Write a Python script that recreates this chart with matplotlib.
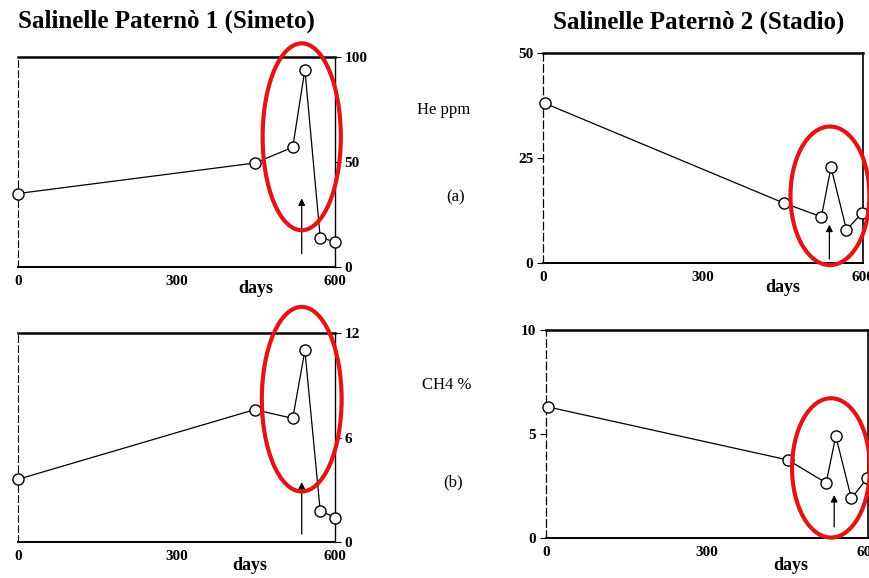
import matplotlib
matplotlib.use("Agg")
import matplotlib.pyplot as plt
from matplotlib.patches import Ellipse

plt.rcParams["font.family"] = "Liberation Serif"

W, H = 870, 578

# sampling days and measured values for the two mud-volcano sites
days_site1 = [0, 448, 520, 543, 572, 600]
he_site1 = [35, 49.5, 57, 94, 14, 12]
ch4_site1 = [3.6, 7.6, 7.1, 11.0, 1.8, 1.4]

days_site2 = [4, 451, 522, 540, 569, 599]
he_site2 = [38, 14.3, 11, 22.8, 7.9, 12]
ch4_site2 = [6.3, 3.75, 2.65, 4.9, 1.9, 2.9]

event_day = 537
x_ticks = [0, 300, 600]
titles = ["Salinelle Paternò 1 (Simeto)", "Salinelle Paternò 2 (Stadio)"]


def px_axes(fig, left, top, right, bottom):
    return fig.add_axes([left / W, 1 - bottom / H, (right - left) / W, (bottom - top) / H])


def style_panel(ax, ymax, yticks, side, days_x, days_drop):
    ax.set_xlim(0, 600)
    ax.set_ylim(0, ymax)
    ax.set_xticks(x_ticks)
    ax.set_xticklabels([str(t) for t in x_ticks], fontsize=11, fontweight="bold")
    ax.tick_params(axis="x", length=0, pad=6)
    ax.set_yticks(yticks)
    ax.set_yticklabels([str(t) for t in yticks], fontsize=11, fontweight="bold")
    if side == "right":
        ax.yaxis.tick_right()
        ax.spines["left"].set_linestyle((0, (6, 3)))
        ax.spines["left"].set_linewidth(0.8)
        ax.spines["right"].set_linewidth(1.0)
    else:
        ax.spines["left"].set_linestyle((0, (6, 3)))
        ax.spines["left"].set_linewidth(0.9)
        ax.spines["right"].set_linewidth(1.2)
    ax.tick_params(axis="y", length=4, width=0.8, pad=3)
    ax.spines["top"].set_linewidth(1.8)
    ax.spines["bottom"].set_linewidth(1.4)
    height_px = ax.get_position().height * H
    ax.text(days_x, -days_drop / height_px, "days", transform=ax.transAxes,
            ha="center", va="center", fontsize=13, fontweight="bold")


def draw_series(ax, days, values, arrow_lo, arrow_hi, ell_c, ell_w, ell_h):
    ax.plot(days, values, "-", color="black", lw=0.9, marker="o", ms=8,
            mfc="white", mec="black", mew=1.0, clip_on=False, zorder=3)
    ax.annotate("", xy=(event_day, arrow_hi), xytext=(event_day, arrow_lo),
                arrowprops=dict(arrowstyle="-|>", color="black", lw=0.9,
                                mutation_scale=10))
    ax.add_patch(Ellipse(ell_c, ell_w, ell_h, fill=False, edgecolor="#e41414",
                         lw=3, clip_on=False, zorder=4))


fig = plt.figure(figsize=(W / 100, H / 100), dpi=100)

ax1 = px_axes(fig, 18, 57, 335, 267)
style_panel(ax1, 100, [0, 50, 100], "right", 0.75, 21)
draw_series(ax1, days_site1, he_site1, 5, 34, (537, 62), 148, 89)

ax2 = px_axes(fig, 543, 53, 863, 263)
style_panel(ax2, 50, [0, 25, 50], "left", 0.75, 24)
draw_series(ax2, days_site2, he_site2, 0.3, 9.8, (538, 16), 148, 33)

ax3 = px_axes(fig, 18, 333, 335, 542)
style_panel(ax3, 12, [0, 6, 12], "right", 0.73, 24)
draw_series(ax3, days_site1, ch4_site1, 0.3, 3.6, (537, 8.2), 151, 10.6)

ax4 = px_axes(fig, 546, 330, 868, 538)
style_panel(ax4, 10, [0, 5, 10], "left", 0.76, 28)
draw_series(ax4, days_site2, ch4_site2, 0.4, 2.2, (531, 3.37), 145, 6.7)

fig.text(18 / W, 1 - 21 / H, titles[0], ha="left", va="center", fontsize=18, fontweight="bold")
fig.text(553 / W, 1 - 22 / H, titles[1], ha="left", va="center", fontsize=18, fontweight="bold")

fig.text(444 / W, 1 - 110 / H, "He ppm", ha="center", va="center", fontsize=12)
fig.text(456 / W, 1 - 197 / H, "(a)", ha="center", va="center", fontsize=12)
fig.text(447 / W, 1 - 385 / H, "CH4 %", ha="center", va="center", fontsize=12)
fig.text(453 / W, 1 - 482 / H, "(b)", ha="center", va="center", fontsize=12)

fig.savefig("out.png", dpi=100)
